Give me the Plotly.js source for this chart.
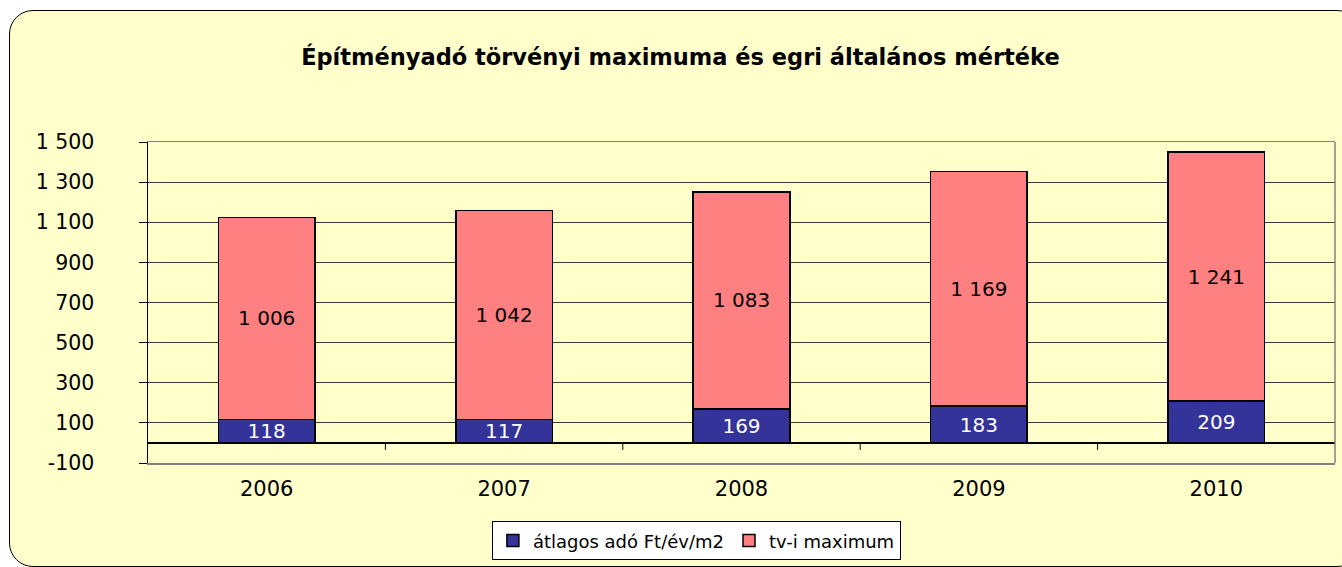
<!DOCTYPE html>
<html>
<head>
<meta charset="utf-8">
<script src="https://cdn.plot.ly/plotly-3.0.1.min.js"></script>
<style>
  html, body { margin: 0; padding: 0; background: #ffffff; }
  #frame { position: absolute; left: 9px; top: 10px; width: 1350px; height: 555px;
           background: #FFFFCC; border: 1.5px solid #000; border-radius: 24px; }
  #chart { position: absolute; left: 0; top: 0; width: 1342px; height: 567px; }
</style>
</head>
<body>
<div id="frame"></div>
<div id="chart"></div>
<script>
const years = ['2006', '2007', '2008', '2009', '2010'];
const avgTax = [118, 117, 169, 183, 209];
const legalMax = [1006, 1042, 1083, 1169, 1241];
const seriesNames = ['átlagos adó Ft/év/m2', 'tv-i maximum'];
const yTickVals = [-100, 100, 300, 500, 700, 900, 1100, 1300, 1500];
const yTickLabels = ['-100', '100', '300', '500', '700', '900', '1 100', '1 300', '1 500'];
const titleText = 'Építményadó törvényi maximuma és egri általános mértéke';

const FONT = 'DejaVu Sans, Verdana, sans-serif';

const traces = [
  {
    type: 'bar', name: seriesNames[0], x: years, y: avgTax,
    marker: { color: '#333399', line: { color: '#000', width: 1.5 } },
    texttemplate: '%{y:,d}', textposition: 'inside', insidetextanchor: 'middle',
    textangle: 0, constraintext: 'none',
    insidetextfont: { family: FONT, size: 20, color: '#ffffff' },
    hoverinfo: 'y+name'
  },
  {
    type: 'bar', name: seriesNames[1], x: years, y: legalMax,
    marker: { color: '#FF8080', line: { color: '#000', width: 1.5 } },
    texttemplate: '%{y:,d}', textposition: 'inside', insidetextanchor: 'middle',
    textangle: 0, constraintext: 'none',
    insidetextfont: { family: FONT, size: 20, color: '#000000' },
    hoverinfo: 'y+name'
  }
];

const shapes = [
  { type: 'line', xref: 'paper', yref: 'paper', x0: 1, x1: 1, y0: 0, y1: 1,
    line: { color: '#808080', width: 1.5 } }
];
for (let i = 0; i < years.length - 1; i++) {
  shapes.push({ type: 'line', xref: 'x', yref: 'y', x0: i + 0.5, x1: i + 0.5,
    ysizemode: 'pixel', yanchor: 0, y0: 0, y1: -7, line: { color: '#000', width: 1 } });
}

const layout = {
  width: 1342, height: 567,
  paper_bgcolor: 'rgba(0,0,0,0)', plot_bgcolor: '#FFFFCC',
  margin: { l: 148, r: 7, t: 142, b: 99 },
  separators: '. ',
  barmode: 'stack', bargap: 0.593,
  font: { family: FONT, size: 20, color: '#000' },
  title: { text: titleText, x: 0.507, xanchor: 'center', y: 0.9, yanchor: 'middle',
           font: { family: FONT, size: 22.5, color: '#000', weight: 'bold' } },
  xaxis: {
    type: 'category', showgrid: false, ticks: '', showline: true, linecolor: '#808080',
    linewidth: 1.5, mirror: true, tickfont: { size: 21 }, ticklabelstandoff: 6
  },
  yaxis: {
    range: [-100, 1500], tickmode: 'array', tickvals: yTickVals, ticktext: yTickLabels,
    showgrid: true, gridcolor: '#3a3a3a', gridwidth: 1,
    zeroline: true, zerolinecolor: '#000', zerolinewidth: 1.5,
    showline: true, linecolor: '#000', linewidth: 1.5,
    ticks: 'outside', ticklen: 8, tickcolor: '#000', tickfont: { size: 20.5 },
    ticklabelstandoff: 40
  },
  showlegend: true,
  legend: {
    orientation: 'h', x: 0.462, xanchor: 'center', y: -0.182, yanchor: 'top',
    bgcolor: '#ffffff', bordercolor: '#000', borderwidth: 1,
    font: { family: FONT, size: 18 }, traceorder: 'normal', itemwidth: 30
  },
  shapes: shapes
};

Plotly.newPlot('chart', traces, layout, { displayModeBar: false, staticPlot: true });
</script>
</body>
</html>
